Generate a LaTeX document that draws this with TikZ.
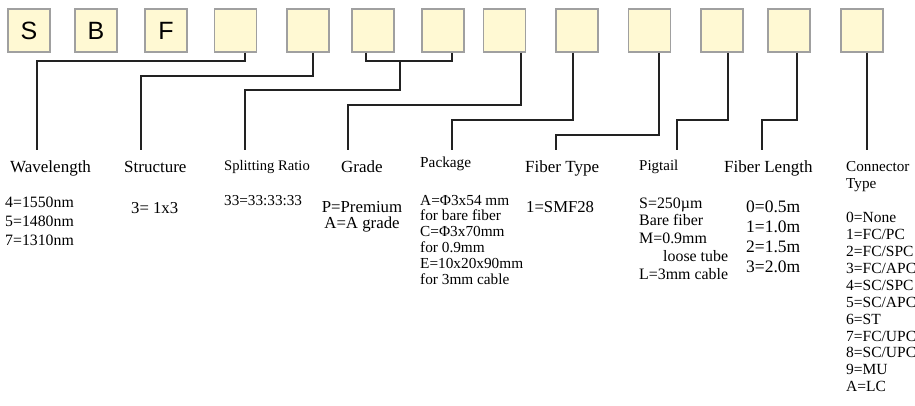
\documentclass[tikz,border=0pt]{standalone}
\usepackage{fontspec}
\usetikzlibrary{calc}
\setmainfont{Liberation Serif}
\newfontfamily\boxfont{Liberation Sans}
\definecolor{boxfill}{HTML}{FFF9D3}
\definecolor{boxline}{HTML}{A0A0A0}
\definecolor{conncol}{HTML}{222222}
\begin{document}
\begin{tikzpicture}[x=1pt,y=-1pt,
  codebox/.style={draw=boxline,line width=1.1pt,fill=boxfill,minimum width=42pt,minimum height=43pt,inner sep=0pt,
    font=\boxfont\fontsize{25}{25}\selectfont},
  conn/.style={draw=conncol,line width=1.2pt},
  txt/.style={anchor=base west,inner sep=0pt,align=left},
  ctxt/.style={anchor=base,inner sep=0pt,align=center}]
\useasboundingbox (0,0) rectangle (915,405);
% boxes
\node[codebox] (b1) at (29,30.5) {S};
\node[codebox] (b2) at (96,30.5) {B};
\node[codebox] (b3) at (166,30.5) {F};
\node[codebox] (b4) at (235.5,30.5) {};
\node[codebox] (b5) at (308,30.5) {};
\node[codebox] (b6) at (373,30.5) {};
\node[codebox] (b7) at (443,30.5) {};
\node[codebox] (b8) at (504.5,30.5) {};
\node[codebox] (b9) at (577,30.5) {};
\node[codebox] (b10) at (649.5,30.5) {};
\node[codebox] (b11) at (722,30.5) {};
\node[codebox] (b12) at (789,30.5) {};
\node[codebox] (b13) at (862,30.5) {};
% connector start points
\coordinate (t4) at ($(b4.south)+(9.5,0)$);
\coordinate (t5) at ($(b5.south)+(5,0)$);
\coordinate (t6) at ($(b6.south)+(-7,0)$);
\coordinate (t7) at ($(b7.south)+(9,0)$);
\coordinate (t8) at ($(b8.south)+(16.5,0)$);
\coordinate (t9) at ($(b9.south)+(-4,0)$);
\coordinate (t10) at ($(b10.south)+(9.5,0)$);
\coordinate (t11) at ($(b11.south)+(6,0)$);
\coordinate (t12) at ($(b12.south)+(8,0)$);
\coordinate (t13) at ($(b13.south)+(5,0)$);
% connector end points
\coordinate (e1) at (37,150);
\coordinate (e2) at (141,150);
\coordinate (e3) at (245,150);
\coordinate (e4) at (348,150);
\coordinate (e5) at (452,150);
\coordinate (e6) at (556,150);
\coordinate (e7) at (677,150);
\coordinate (e8) at (762,150);
\coordinate (e9) at (867,150);
\coordinate (j67) at (400,61);
% connectors
\draw[conn] (t4) |- (37,61) -- (e1);
\draw[conn] (t5) |- (141,76) -- (e2);
\draw[conn] (t6) |- (t7 |- j67) -- (t7);
\draw[conn] (j67) |- (245,90) -- (e3);
\draw[conn] (t8) |- (348,105) -- (e4);
\draw[conn] (t9) |- (452,120) -- (e5);
\draw[conn] (t10) |- (556,135) -- (e6);
\draw[conn] (t11) |- (677,120) -- (e7);
\draw[conn] (t12) |- (762,120) -- (e8);
\draw[conn] (t13) -- (e9);
% headings (multi-line nodes are anchored at the baseline of their last line)
\node[txt,font=\fontsize{17}{17}\selectfont] (h1) at (10,172) {Wavelength};
\node[txt,font=\fontsize{17}{17}\selectfont] (h2) at (124,172) {Structure};
\node[txt,font=\fontsize{14.6}{14.6}\selectfont] (h3) at (224,170) {Splitting Ratio};
\node[txt,font=\fontsize{17}{17}\selectfont] (h4) at (341,172) {Grade};
\node[txt,font=\fontsize{15.3}{15.3}\selectfont] (h5) at (420,167) {Package};
\node[txt,font=\fontsize{17}{17}\selectfont] (h6) at (525,172) {Fiber Type};
\node[txt,font=\fontsize{15}{15}\selectfont] (h7) at (639,170) {Pigtail};
\node[txt,font=\fontsize{17}{17}\selectfont] (h8) at (724,172) {Fiber Length};
\node[txt,font=\fontsize{15.2}{17}\selectfont] (h9) at (846,188) {Connector\\Type};
% values
\node[txt,font=\fontsize{15.8}{19}\selectfont] (v1) at (5,245) {4=1550nm\\5=1480nm\\7=1310nm};
\node[txt,font=\fontsize{16.7}{17}\selectfont] (v2) at (131,213) {3= 1x3};
\node[txt,font=\fontsize{15.2}{17}\selectfont] (v3) at (224,205) {33=33:33:33};
\node[ctxt,font=\fontsize{16.8}{15.8}\selectfont] (v4) at (362,228) {P=Premium\\A=A grade};
\node[txt,font=\fontsize{15.3}{15.8}\selectfont] (v5) at (420,284) {A=Φ3x54 mm\\for bare fiber\\C=Φ3x70mm\\for 0.9mm\\E=10x20x90mm\\for 3mm cable};
\node[txt,font=\fontsize{16.7}{17}\selectfont] (v6) at (526,212) {1=SMF28};
\node[txt,font=\fontsize{15.9}{17.8}\selectfont] (v7) at (639,279.2) {S=250µm\\Bare fiber\\M=0.9mm\\\hspace*{24pt}loose tube\\L=3mm cable};
\node[txt,font=\fontsize{17.5}{20}\selectfont] (v8) at (746,272) {0=0.5m\\1=1.0m\\2=1.5m\\3=2.0m};
\node[txt,font=\fontsize{15.5}{16.9}\selectfont] (v9) at (846,391.7) {0=None\\1=FC/PC\\2=FC/SPC\\3=FC/APC\\4=SC/SPC\\5=SC/APC\\6=ST\\7=FC/UPC\\8=SC/UPC\\9=MU\\A=LC};
\end{tikzpicture}
\end{document}
